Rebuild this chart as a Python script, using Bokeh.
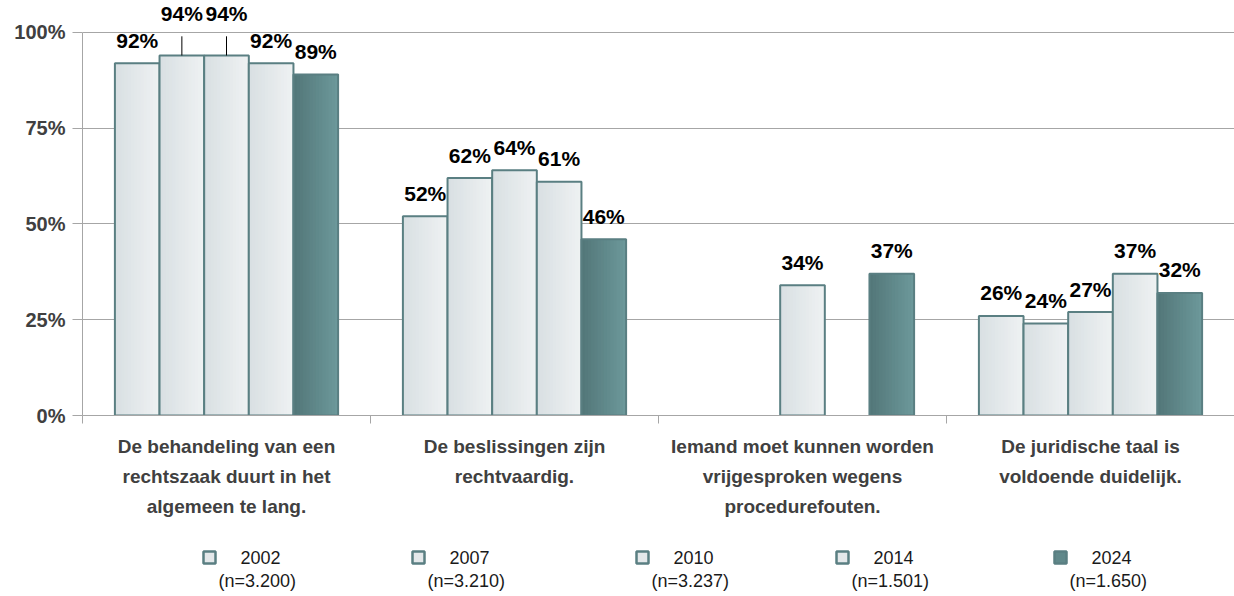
import math
from bokeh.plotting import figure
from bokeh.layouts import column
from bokeh.models import Range1d, FixedTicker
from bokeh.core.properties import value
from bokeh.embed import file_html
from bokeh.resources import INLINE

nan = float("nan")

categories = [
    "De behandeling van een\nrechtszaak duurt in het\nalgemeen te lang.",
    "De beslissingen zijn\nrechtvaardig.",
    "Iemand moet kunnen worden\nvrijgesproken wegens\nprocedurefouten.",
    "De juridische taal is\nvoldoende duidelijk.",
]
series_names = ["2002", "2007", "2010", "2014", "2024"]
series_n = ["(n=3.200)", "(n=3.210)", "(n=3.237)", "(n=1.501)", "(n=1.650)"]
s2002 = [92, 52, nan, 26]
s2007 = [94, 62, nan, 24]
s2010 = [94, 64, 34, 27]
s2014 = [92, 61, nan, 37]
s2024 = [89, 46, 37, 32]
series_values = [s2002, s2007, s2010, s2014, s2024]
y_ticks = [0, 25, 50, 75, 100]

FONT = "Liberation Sans"
EDGE = "#5a7f82"
LIGHT = ("#d9e0e3", "#eef1f2")
DARK = ("#537779", "#6c989a")
GRID = "#a6a6a6"


def hex2rgb(h):
    h = h.lstrip("#")
    return tuple(int(h[i:i + 2], 16) for i in (0, 2, 4))


def mix(c1, c2, t):
    a, b = hex2rgb(c1), hex2rgb(c2)
    return "#%02x%02x%02x" % tuple(round(a[i] + (b[i] - a[i]) * t) for i in range(3))


W = 1234
LEFT = 82
p = figure(width=W, height=540, x_range=Range1d(0, 4), y_range=Range1d(0, 107.83),
           output_backend="svg", toolbar_location=None,
           min_border_left=LEFT, min_border_right=0, min_border_top=2, min_border_bottom=125)
p.outline_line_color = None
p.xgrid.visible = False
p.ygrid.ticker = FixedTicker(ticks=y_ticks)
p.ygrid.grid_line_color = GRID

# y axis
ya = p.yaxis[0]
ya.ticker = FixedTicker(ticks=y_ticks)
ya.bounds = (0, 100)
ya.major_label_overrides = {t: f"{t}%" for t in y_ticks}
ya.major_label_text_font = FONT
ya.major_label_text_font_style = "bold"
ya.major_label_text_font_size = "20px"
ya.major_label_text_color = "#404040"
ya.major_tick_out = 10
ya.major_tick_in = 0
ya.minor_tick_line_color = None
ya.axis_line_color = GRID
ya.major_tick_line_color = GRID
ya.major_label_standoff = 7

# x axis
xa = p.xaxis[0]
centers = [i + 0.5 for i in range(len(categories))]
xa.ticker = FixedTicker(ticks=centers, minor_ticks=list(range(len(categories) + 1)))
xa.major_label_overrides = {c: lab for c, lab in zip(centers, categories)}
xa.major_tick_in = 0
xa.major_tick_out = 0
xa.minor_tick_in = 0
xa.minor_tick_out = 8
xa.minor_tick_line_color = GRID
xa.axis_line_color = GRID
xa.major_label_text_font = FONT
xa.major_label_text_font_style = "bold"
xa.major_label_text_font_size = "19px"
xa.major_label_text_color = "#404040"
xa.major_label_text_line_height = 1.44
xa.major_label_standoff = 12

bw = 0.155
NSTRIP = 14
nudges = {(0, 1): 5.0, (0, 2): 5.0}

for j, vals in enumerate(series_values):
    cols = DARK if j == len(series_values) - 1 else LIGHT
    xs, tops = [], []
    for i, v in enumerate(vals):
        if not math.isnan(v):
            xs.append(i + 0.5 + (j - 2) * bw)
            tops.append(v)
    if not xs:
        continue
    # gradient: each strip runs from its own left edge to the bar's right edge
    for k in range(NSTRIP):
        left_off = -bw / 2 + k * bw / NSTRIP
        width = bw / 2 - left_off
        p.vbar(x=[x + left_off + width / 2 for x in xs], top=tops, bottom=0, width=width,
               fill_color=mix(cols[0], cols[1], k / (NSTRIP - 1)), line_color=None)
    p.vbar(x=xs, top=tops, bottom=0, width=bw, fill_color=None, line_color=EDGE, line_width=2)

# data labels
lx, ly, lt = [], [], []
sx, sy0, sy1 = [], [], []
for j, vals in enumerate(series_values):
    for i, v in enumerate(vals):
        if math.isnan(v):
            continue
        x = i + 0.5 + (j - 2) * bw
        n = nudges.get((i, j), 0)
        lx.append(x)
        ly.append(v + n)
        lt.append(f"{v:g}%")
        if n:
            sx.append(x)
            sy0.append(v)
            sy1.append(v + n)

p.segment(x0=sx, y0=sy0, x1=sx, y1=sy1, line_color="#000000", line_width=1)
p.text(x=lx, y=ly, text=lt, text_align="center", text_baseline="alphabetic", y_offset=-23,
       text_font=value(FONT), text_font_style="bold", text_font_size="21px", text_color="#000000")

# legend figure (x in page pixels)
LH = 56
lp = figure(width=W, height=LH, x_range=Range1d(LEFT, W), y_range=Range1d(0, LH),
            output_backend="svg", toolbar_location=None,
            min_border_left=LEFT, min_border_right=0, min_border_top=0, min_border_bottom=0)
lp.axis.visible = False
lp.grid.visible = False
lp.outline_line_color = None

legend_x = [209, 418, 642, 842, 1060]
fills = [mix(LIGHT[0], LIGHT[1], 0.5)] * (len(series_names) - 1) + [mix(DARK[0], DARK[1], 0.5)]
lp.scatter(x=legend_x, y=[39] * len(legend_x), marker="square", size=12, fill_color=fills,
           line_color=EDGE, line_width=2.5)
lp.text(x=[m + 31 for m in legend_x], y=[39] * len(legend_x), text=series_names, text_align="left",
        text_baseline="middle", text_font=value(FONT), text_font_size="18px", text_color="#1a1a1a")
lp.text(x=[m + 9 for m in legend_x], y=[16] * len(legend_x), text=series_n, text_align="left",
        text_baseline="middle", text_font=value(FONT), text_font_size="18px", text_color="#1a1a1a")

layout = column(p, lp)
open("out.html", "w").write(file_html(layout, INLINE))
